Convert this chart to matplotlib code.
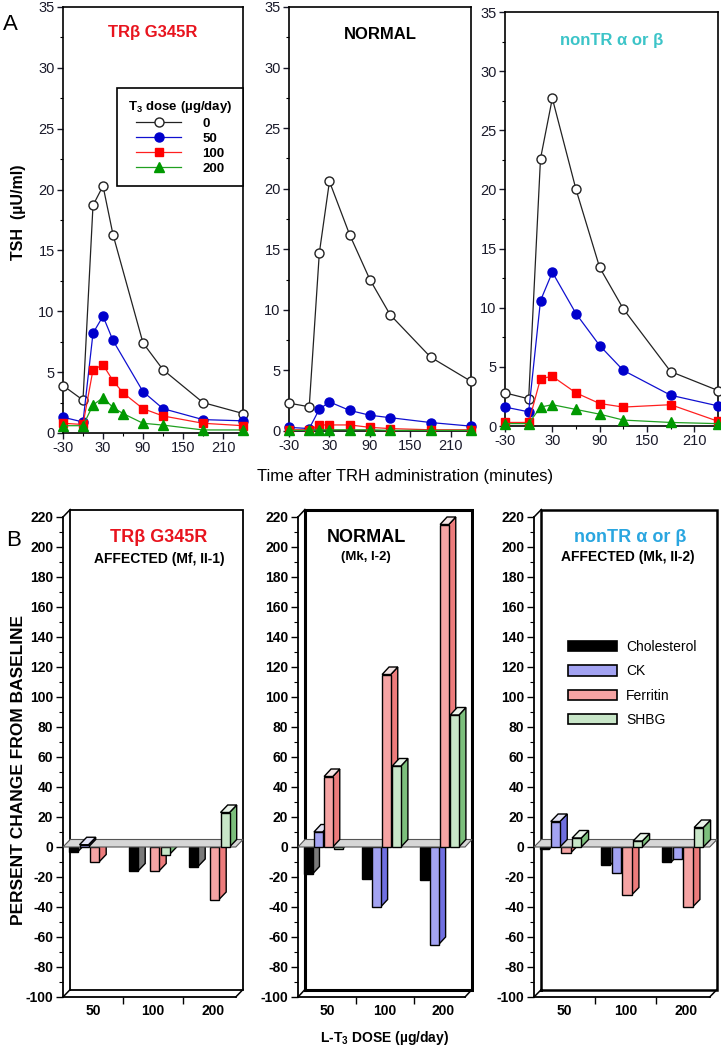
import numpy as np
import matplotlib
matplotlib.use("Agg")
import matplotlib.pyplot as plt
from matplotlib.lines import Line2D
from matplotlib.patches import Patch
from matplotlib.ticker import MultipleLocator, FixedLocator

plt.rcParams['font.family'] = ['Liberation Sans', 'DejaVu Sans']
plt.rcParams['mathtext.fontset'] = 'custom'
plt.rcParams['mathtext.rm'] = 'Liberation Sans'
plt.rcParams['mathtext.bf'] = 'Liberation Sans:bold'
plt.rcParams['axes.unicode_minus'] = False

W_PX, H_PX = 721, 1050
nan = np.nan

# ---- A: TSH after TRH, by T3 dose ----
minutes = [-30, 0, 15, 30, 45, 60, 90, 120, 180, 240]
t3_doses = ['0', '50', '100', '200']

mut_0 = [3.9, 2.7, 18.7, 20.3, 16.3, nan, 7.4, 5.2, 2.5, 1.6]
mut_50 = [1.3, 0.9, 8.2, 9.6, 7.6, nan, 3.4, 2.0, 1.1, 1.0]
mut_100 = [0.8, 0.7, 5.2, 5.6, 4.3, 3.3, 2.0, 1.4, 0.8, 0.6]
mut_200 = [0.6, 0.6, 2.3, 2.9, 2.1, 1.6, 0.8, 0.65, 0.25, 0.25]

norm_0 = [2.3, 2.0, 14.7, 20.6, nan, 16.2, 12.5, 9.6, 6.1, 4.1]
norm_50 = [0.3, 0.2, 1.8, 2.4, nan, 1.7, 1.3, 1.1, 0.7, 0.4]
norm_100 = [0.1, 0.1, 0.5, 0.5, nan, 0.5, 0.3, 0.2, 0.1, 0.1]
norm_200 = [0.05, 0.05, 0.1, 0.1, nan, 0.1, 0.1, 0.05, 0.05, 0.05]

non_0 = [2.8, 2.3, 22.6, 27.7, nan, 20.0, 13.4, 9.9, 4.6, 3.0]
non_50 = [1.6, 1.2, 10.6, 13.0, nan, 9.5, 6.8, 4.7, 2.6, 1.7]
non_100 = [0.3, 0.3, 4.0, 4.2, nan, 2.8, 1.9, 1.6, 1.8, 0.4]
non_200 = [0.2, 0.2, 1.6, 1.8, nan, 1.4, 1.0, 0.5, 0.3, 0.2]

# ---- B: percent change from baseline, by L-T3 dose ----
lt3_doses = ['50', '100', '200']
analytes = ['Cholesterol', 'CK', 'Ferritin', 'SHBG']

mut_chol = [-3, -16, -13]
mut_ck = [1.5, 0, 0]
mut_ferr = [-10, -16, -35]
mut_shbg = [0, -5, 23]

norm_chol = [-18, -21, -22]
norm_ck = [10, -40, -65]
norm_ferr = [47, 115, 215]
norm_shbg = [-1, 54, 88]

non_chol = [-1.5, -12, -10]
non_ck = [17, -17, -8]
non_ferr = [-4, -32, -40]
non_shbg = [6, 4, 13]

line_styles = [
    dict(color='#222222', marker='o', mfc='white', mec='#222222', ms=6.5, lw=0.9, mew=1.0),
    dict(color='#1010d0', marker='o', mfc='#0000cc', mec='#0000cc', ms=6.5, lw=0.9),
    dict(color='#ff2020', marker='s', mfc='#ff0000', mec='#ff0000', ms=6, lw=0.9),
    dict(color='#20a020', marker='^', mfc='#009900', mec='#009900', ms=6.5, lw=0.9),
]
fronts = ['#000000', '#a3a3f2', '#f5a3a3', '#c8e6c8']
sides = ['#7a7a7a', '#6f6fe0', '#ec7b7b', '#7cbf7c']
tops = ['#d9d9d9', '#e4e4f6', '#f4e4e4', '#eaf4ea']


def fbox(x0, y0, x1, y1):
    return [x0 / W_PX, 1 - y1 / H_PX, (x1 - x0) / W_PX, (y1 - y0) / H_PX]


def fx(px):
    return px / W_PX


def fy(py):
    return 1 - py / H_PX


fig = plt.figure(figsize=(7.21, 10.5), dpi=100)


def tsh_panel(box, series, title, tcolor, ty):
    ax = fig.add_axes(fbox(*box))
    t = np.array(minutes, float)
    for vals, st in zip(series, line_styles):
        v = np.array(vals, float)
        m = ~np.isnan(v)
        ax.plot(t[m], v[m], clip_on=False, zorder=3, **st)
    ax.set_xlim(-30, 240)
    ax.set_ylim(0, 35)
    ax.set_xticks([-30, 30, 90, 150, 210])
    ax.xaxis.set_minor_locator(FixedLocator([0, 60, 120, 180]))
    ax.yaxis.set_major_locator(MultipleLocator(5))
    ax.yaxis.set_minor_locator(MultipleLocator(2.5))
    ax.tick_params(direction='out', length=4, width=1, labelsize=10.5, colors='#1a1a2a', pad=2)
    ax.tick_params(which='minor', direction='out', length=2.5, width=0.8)
    for s in ax.spines.values():
        s.set_linewidth(1.2)
    ax.text(0.5, ty, title, color=tcolor, fontweight='bold', fontsize=12,
            ha='center', va='center', transform=ax.transAxes)
    return ax


ax1 = tsh_panel((63, 7, 243, 433), [mut_0, mut_50, mut_100, mut_200], 'TRβ G345R', '#e8141e', 0.94)
ax2 = tsh_panel((289, 7, 471, 431), [norm_0, norm_50, norm_100, norm_200], 'NORMAL', '#000000', 0.934)
ax3 = tsh_panel((505, 12, 718, 426), [non_0, non_50, non_100, non_200], 'nonTR α or β', '#3cc4c8', 0.932)

handles = [Line2D([], [], **st) for st in line_styles]
leg = ax1.legend(handles, t3_doses, title=r'T$_\mathbf{3}$ dose (µg/day)', loc='upper right',
                 bbox_to_anchor=(fx(243), fy(88)), bbox_transform=fig.transFigure,
                 fancybox=False, edgecolor='k', framealpha=1, fontsize=9.5,
                 title_fontproperties={'weight': 'bold', 'size': 9.5},
                 handlelength=3.4, handletextpad=1.6, labelspacing=0.22,
                 borderaxespad=0, borderpad=0.8, alignment='center')
leg.get_frame().set_linewidth(1.2)
for txt in leg.get_texts():
    txt.set_fontweight('bold')

fig.text(fx(3), fy(25), 'A', fontsize=16, va='center', ha='left')
fig.text(fx(19), fy(212), 'TSH  (µU/ml)', rotation=90, fontsize=11.5, fontweight='bold',
         ha='center', va='center')
fig.text(fx(405), fy(477), 'Time after TRH administration (minutes)', fontsize=12,
         ha='center', va='center')

# ---- pseudo-3D bar panels ----
DX, DY = 0.12, 5.0
BW, PITCH = 0.15, 0.175
WALL = 3.0
group_pos = [0.5, 1.5, 2.5]


def change_panel(axis_px, wall_px, series, lw_wall):
    s = (wall_px - axis_px) / WALL
    ax = fig.add_axes(fbox(axis_px - 0.06 * s, 499, wall_px + 0.04 * s, 1006))
    ax.set_xlim(-0.06, WALL + 0.04)
    ax.set_ylim(-106, 232)
    ax.patch.set_alpha(0)
    for side in ['top', 'right']:
        ax.spines[side].set_visible(False)
    ax.spines['left'].set_position(('data', 0))
    ax.spines['left'].set_bounds(-100, 220)
    ax.spines['bottom'].set_position(('data', -100))
    ax.spines['bottom'].set_bounds(0, WALL - DX)
    ax.spines['left'].set_linewidth(1.3)
    ax.spines['bottom'].set_linewidth(1.3)

    # back wall and floor edges
    ax.plot([DX, DX, WALL, WALL, DX], [-100 + DY, 220 + DY, 220 + DY, -100 + DY, -100 + DY],
            color='k', lw=lw_wall, zorder=1, solid_joinstyle='miter')
    ax.plot([0, DX], [220, 220 + DY], color='k', lw=1.1, zorder=1)
    ax.plot([0, DX], [-100, -100 + DY], color='k', lw=1.1, zorder=1)
    ax.plot([WALL - DX, WALL], [-100, -100 + DY], color='k', lw=1.1, zorder=1)

    # zero plane
    ax.fill([0, WALL - DX, WALL, DX], [0, 0, DY, DY], facecolor='#d6d6d6',
            edgecolor='#555555', lw=0.8, zorder=3)

    for g, pos in enumerate(group_pos):
        for k, vals in enumerate(series):
            v = vals[g]
            if v == 0:
                continue
            x = pos - 0.4 + k * PITCH
            z = (4 if v > 0 else 2) + 0.01 * (g * 4 + k)
            ax.fill([x, x + BW, x + BW, x], [0, 0, v, v], facecolor=fronts[k],
                    edgecolor='k', lw=1.0, zorder=z + 0.002)
            ax.fill([x + BW, x + BW + DX, x + BW + DX, x + BW], [0, DY, v + DY, v],
                    facecolor=sides[k], edgecolor='k', lw=1.0, zorder=z)
            if v > 0:
                ax.fill([x, x + BW, x + BW + DX, x + DX], [v, v, v + DY, v + DY],
                        facecolor=tops[k], edgecolor='k', lw=1.0, zorder=z + 0.001)

    ax.yaxis.set_major_locator(FixedLocator(np.arange(-100, 221, 20)))
    ax.yaxis.set_minor_locator(FixedLocator(np.arange(-90, 220, 20)))
    ax.set_xticks(group_pos)
    ax.set_xticklabels(lt3_doses)
    ax.xaxis.set_minor_locator(FixedLocator([1.0, 2.0]))
    ax.tick_params(axis='y', direction='out', length=5, width=1, labelsize=10, pad=2)
    ax.tick_params(axis='y', which='minor', direction='out', length=3, width=0.8)
    ax.tick_params(axis='x', length=0, labelsize=10, pad=5)
    ax.tick_params(axis='x', which='minor', direction='out', length=5, width=1)
    for lbl in ax.get_yticklabels() + ax.get_xticklabels():
        lbl.set_fontweight('bold')
    return ax


bx1 = change_panel(63, 243, [mut_chol, mut_ck, mut_ferr, mut_shbg], 1.3)
bx2 = change_panel(298, 472, [norm_chol, norm_ck, norm_ferr, norm_shbg], 2.2)
bx3 = change_panel(534, 717, [non_chol, non_ck, non_ferr, non_shbg], 1.8)

fig.text(fx(159), fy(538), 'TRβ G345R', color='#e8141e', fontsize=13, fontweight='bold',
         ha='center', va='center')
fig.text(fx(159), fy(559), 'AFFECTED (Mf, II-1)', fontsize=10, fontweight='bold',
         ha='center', va='center')
fig.text(fx(366), fy(538), 'NORMAL', fontsize=13, fontweight='bold', ha='center', va='center')
fig.text(fx(366), fy(557), '(Mk, I-2)', fontsize=9.5, fontweight='bold', ha='center', va='center')
fig.text(fx(630), fy(538), 'nonTR α or β', color='#2aa6e0', fontsize=13, fontweight='bold',
         ha='center', va='center')
fig.text(fx(628), fy(557), 'AFFECTED (Mk, II-2)', fontsize=10, fontweight='bold',
         ha='center', va='center')

bar_handles = [Patch(facecolor=c, edgecolor='k', lw=1.2) for c in fronts]
bx3.legend(bar_handles, analytes, loc='upper left', bbox_to_anchor=(fx(568), fy(640)),
           bbox_transform=fig.transFigure, frameon=False, fontsize=10,
           handlelength=3.5, handleheight=0.75, handletextpad=0.7, labelspacing=0.75,
           borderpad=0, borderaxespad=0)

fig.text(fx(6), fy(540), 'B', fontsize=16, va='center', ha='left')
fig.text(fx(19), fy(770), 'PERSENT CHANGE FROM BASELINE', rotation=90, fontsize=12.5,
         fontweight='bold', ha='center', va='center')
fig.text(fx(385), fy(1038), r'L-T$_\mathbf{3}$ DOSE (µg/day)', fontsize=10, fontweight='bold',
         ha='center', va='center')

fig.savefig('out.png', dpi=100)
